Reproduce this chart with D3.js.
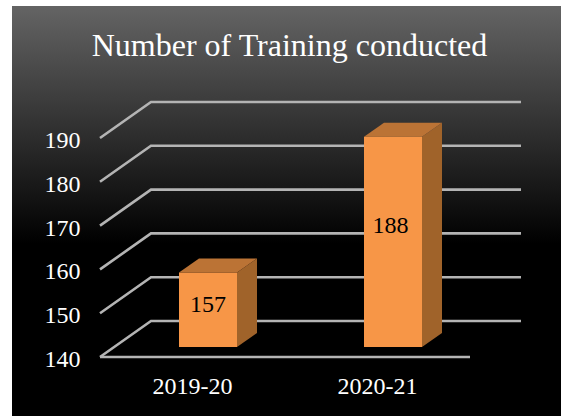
<!DOCTYPE html>
<html><head><meta charset="utf-8">
<script src="https://cdn.jsdelivr.net/npm/d3@7/dist/d3.min.js"></script>
<style>html,body{margin:0;padding:0;background:#fff}svg{display:block}text{font-family:"Liberation Serif",serif}</style>
</head><body><div id="c"></div>
<script>
const categories = ["2019-20", "2020-21"];
const values = [157, 188];
const yTicks = [140, 150, 160, 170, 180, 190];
const titleText = "Number of Training conducted";

const W = 561, H = 416;
const svg = d3.select("#c").append("svg").attr("width", W).attr("height", H);
const defs = svg.append("defs");
const g = defs.append("linearGradient").attr("id", "bg").attr("x1", 0).attr("y1", 0).attr("x2", 0).attr("y2", 1);
g.append("stop").attr("offset", "0%").attr("stop-color", "#646464");
g.append("stop").attr("offset", "58%").attr("stop-color", "#000");
g.append("stop").attr("offset", "100%").attr("stop-color", "#000");
const blur = defs.append("filter").attr("id", "soft").attr("x", "-5%").attr("y", "-5%").attr("width", "110%").attr("height", "110%");
blur.append("feGaussianBlur").attr("stdDeviation", 0.6);

svg.append("rect").attr("x", 12).attr("y", 6).attr("width", W - 12).attr("height", H - 6).attr("fill", "url(#bg)");

svg.append("text").attr("x", 289.5).attr("y", 56).attr("text-anchor", "middle")
  .attr("font-size", 32).attr("fill", "#fff").text(titleText);

const y = d3.scaleLinear().domain([140, 190]).range([357, 138]);
const x = d3.scaleBand().domain(categories).range([100, 470]);
const depth = { dx: 51, dy: -36 };
const barOff = { dx: 15.5, dy: -10 };
const barDepth = { dx: 20, dy: -14 };
const barW = 58;

const grid = svg.append("g").attr("filter", "url(#soft)")
  .attr("fill", "none").attr("stroke", "#b4b4b4").attr("stroke-width", 2.6);
yTicks.forEach(t => {
  const yy = y(t);
  const pts = [[100, yy], [100 + depth.dx, yy + depth.dy], [470 + depth.dx, yy + depth.dy]];
  grid.append("path").attr("d", d3.line()(pts));
});
grid.append("path").attr("d", d3.line()([[100, y(140)], [470, y(140)]]));

const bars = svg.append("g").attr("filter", "url(#soft)");
const labelFrac = 0.42;
const labelShift = [0, -2.5];
categories.forEach((c, i) => {
  const x0 = x(c) + x.bandwidth() / 2 - barW / 2 + barOff.dx;
  const x1 = x0 + barW;
  const yb = y(140) + barOff.dy;
  const yt = y(values[i]) + barOff.dy;
  const poly = p => p.map(a => a.join(",")).join(" ");
  bars.append("polygon").attr("fill", "#a0632c").attr("points", poly([
    [x1, yt], [x1 + barDepth.dx, yt + barDepth.dy], [x1 + barDepth.dx, yb + barDepth.dy], [x1, yb]]));
  bars.append("polygon").attr("fill", "#bb7335").attr("points", poly([
    [x0, yt], [x0 + barDepth.dx, yt + barDepth.dy], [x1 + barDepth.dx, yt + barDepth.dy], [x1, yt]]));
  bars.append("rect").attr("x", x0).attr("y", yt).attr("width", barW).attr("height", yb - yt).attr("fill", "#f79646");
  svg.append("text").attr("x", (x0 + x1) / 2 + labelShift[i]).attr("y", yt + (yb - yt) * labelFrac + 8).attr("text-anchor", "middle")
    .attr("font-size", 24).attr("fill", "#000").text(values[i]);
});

svg.append("g").selectAll("text").data(yTicks).join("text")
  .attr("x", 80.5).attr("y", d => y(d) + 10).attr("text-anchor", "end")
  .attr("font-size", 24).attr("fill", "#fff").text(d => d);
svg.append("g").selectAll("text").data(categories).join("text")
  .attr("x", d => x(d) + x.bandwidth() / 2).attr("y", 394).attr("text-anchor", "middle")
  .attr("font-size", 24).attr("fill", "#fff").text(d => d);
</script></body></html>
